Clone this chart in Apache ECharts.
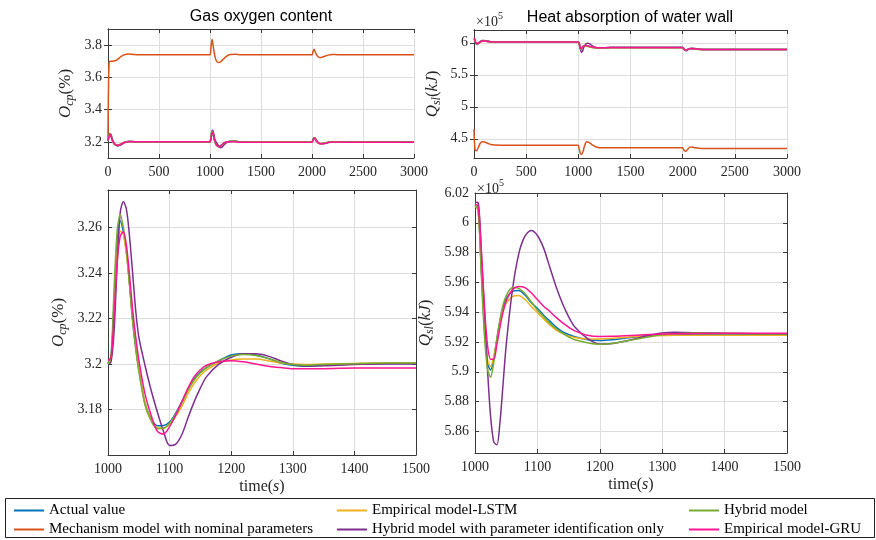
<!DOCTYPE html>
<html>
<head>
<meta charset="utf-8">
<title>Gas oxygen content / Heat absorption of water wall</title>
<script src="https://cdn.jsdelivr.net/npm/echarts@6/dist/echarts.min.js"></script>
<style>
    html, body { margin: 0; padding: 0; background: #fff; }
    #main { width: 876px; height: 540px; }
</style>
</head>
<body>
<div id="main"></div>
<script>
// ---- names / colours ----
var names = ['Actual value', 'Mechanism model with nominal parameters', 'Empirical model-LSTM',
    'Hybrid model with parameter identification only', 'Hybrid model', 'Empirical model-GRU'];
var colors = ['#0072BD', '#D95319', '#EDB120', '#7E2F8E', '#77AC30', '#FF1493'];

// ---- time bases (s) ----
var t0 = [0, 5, 10, 20, 30, 45, 60, 80, 100, 130, 160, 200, 250, 300];
var tZoom = [1000, 1005, 1010, 1015, 1020, 1025, 1030, 1035, 1040, 1045, 1050, 1060, 1070, 1080, 1090,
    1100, 1110, 1120, 1130, 1140, 1150, 1160, 1180, 1200, 1220, 1240, 1260, 1280, 1300, 1320, 1350, 1400, 1450, 1500];
var t2 = [2000, 2005, 2010, 2020, 2030, 2045, 2060, 2080, 2100, 2130, 2160, 2200, 2250, 2300, 3000];
var tMech = [0, 3, 10, 20, 30, 40, 60, 80, 100, 130, 160, 200, 250, 300, 1000, 1005, 1010, 1020, 1030, 1045,
    1060, 1080, 1100, 1130, 1160, 1200, 1250, 1300, 2000, 2005, 2010, 2020, 2030, 2050, 2070, 2090, 2120,
    2160, 2200, 2250, 3000];

// ---- gas oxygen content O_cp (%) ----
var o2ActualZ = [3.2005, 3.203, 3.228, 3.254, 3.263, 3.258, 3.249, 3.235, 3.219, 3.2075, 3.198, 3.183, 3.176, 3.1729, 3.173,
    3.1745, 3.1785, 3.1835, 3.189, 3.1935, 3.1965, 3.1985, 3.2015, 3.204, 3.2045, 3.204, 3.2025, 3.2005, 3.1995, 3.199, 3.1995, 3.2, 3.2003, 3.2003];
var o2LstmZ = [3.2, 3.202, 3.226, 3.25, 3.2585, 3.257, 3.248, 3.235, 3.22, 3.2085, 3.198, 3.183, 3.1755, 3.172, 3.1718,
    3.1735, 3.177, 3.1815, 3.187, 3.1915, 3.195, 3.1975, 3.2005, 3.2018, 3.2022, 3.2022, 3.2015, 3.2005, 3.2, 3.1998, 3.2, 3.2003, 3.2005, 3.2005];
var o2HybridZ = [3.2, 3.204, 3.234, 3.259, 3.2658, 3.26, 3.25, 3.235, 3.219, 3.2065, 3.197, 3.182, 3.175, 3.1716, 3.1718,
    3.174, 3.178, 3.183, 3.1885, 3.193, 3.1962, 3.1985, 3.2015, 3.2035, 3.2042, 3.2038, 3.2025, 3.2008, 3.1998, 3.1995, 3.1998, 3.2002, 3.2005, 3.2005];
var o2ParamZ = [3.2, 3.201, 3.215, 3.245, 3.267, 3.2714, 3.268, 3.256, 3.24, 3.2235, 3.212, 3.1995, 3.1885, 3.179, 3.1705,
    3.1642, 3.1648, 3.169, 3.1765, 3.1835, 3.1895, 3.1945, 3.2, 3.203, 3.2045, 3.2045, 3.2035, 3.2015, 3.1998, 3.1992, 3.1993, 3.1998, 3.2, 3.2];
var o2GruZ = [3.2015, 3.203, 3.222, 3.245, 3.2565, 3.2582, 3.252, 3.239, 3.224, 3.212, 3.202, 3.187, 3.1775, 3.1705, 3.1692,
    3.1725, 3.1775, 3.1835, 3.1895, 3.1945, 3.1975, 3.1995, 3.201, 3.2015, 3.201, 3.2, 3.199, 3.1985, 3.198, 3.198, 3.198, 3.1983, 3.1983, 3.1983];

var o2Actual0 = [3.206, 3.225, 3.24, 3.248, 3.236, 3.206, 3.188, 3.18, 3.179, 3.187, 3.197, 3.203, 3.201, 3.2];
var o2Lstm0 = [3.206, 3.222, 3.237, 3.245, 3.234, 3.206, 3.189, 3.181, 3.18, 3.188, 3.197, 3.202, 3.201, 3.2];
var o2Hybrid0 = [3.206, 3.226, 3.242, 3.25, 3.237, 3.205, 3.187, 3.179, 3.178, 3.187, 3.198, 3.203, 3.201, 3.2];
var o2Param0 = [3.206, 3.22, 3.235, 3.252, 3.245, 3.214, 3.192, 3.179, 3.175, 3.182, 3.194, 3.203, 3.202, 3.2];
var o2Gru0 = [3.208, 3.222, 3.236, 3.245, 3.233, 3.206, 3.19, 3.181, 3.179, 3.187, 3.196, 3.201, 3.201, 3.2012];

var o2Actual2 = [3.2003, 3.202, 3.212, 3.225, 3.22, 3.205, 3.195, 3.19, 3.19, 3.194, 3.198, 3.2015, 3.201, 3.2, 3.2];
var o2Lstm2 = [3.2005, 3.202, 3.211, 3.223, 3.219, 3.205, 3.195, 3.19, 3.19, 3.194, 3.198, 3.201, 3.201, 3.2, 3.2];
var o2Hybrid2 = [3.2005, 3.203, 3.213, 3.226, 3.221, 3.205, 3.194, 3.189, 3.19, 3.194, 3.198, 3.2015, 3.201, 3.2, 3.2];
var o2Param2 = [3.2, 3.201, 3.208, 3.226, 3.225, 3.21, 3.197, 3.189, 3.188, 3.191, 3.196, 3.2, 3.2015, 3.2, 3.2];
var o2Gru2 = [3.1983, 3.2, 3.209, 3.222, 3.218, 3.203, 3.193, 3.188, 3.188, 3.192, 3.196, 3.199, 3.199, 3.198, 3.198];

var o2Mech = [3.22, 3.45, 3.68, 3.7, 3.7, 3.7, 3.702, 3.705, 3.715, 3.73, 3.74, 3.745, 3.742, 3.74, 3.74, 3.75, 3.79, 3.837, 3.8, 3.74,
    3.705, 3.693, 3.695, 3.712, 3.73, 3.742, 3.743, 3.74, 3.74, 3.745, 3.76, 3.775, 3.76, 3.735, 3.724, 3.724, 3.73,
    3.738, 3.742, 3.741, 3.74];

// ---- heat absorption of water wall Q_sl (x10^5 kJ) ----
var qActualZ = [6.0116, 6.009, 5.969, 5.93, 5.906, 5.9012, 5.909, 5.922, 5.934, 5.943, 5.949, 5.954, 5.9545, 5.9515, 5.9465,
    5.9425, 5.938, 5.934, 5.93, 5.927, 5.925, 5.9235, 5.9215, 5.921, 5.9215, 5.9225, 5.9235, 5.9243, 5.9248, 5.925, 5.9252, 5.9252, 5.9252, 5.9252];
var qLstmZ = [6.011, 6.0085, 5.97, 5.932, 5.908, 5.9036, 5.91, 5.921, 5.932, 5.941, 5.946, 5.9505, 5.9512, 5.9485, 5.944,
    5.9398, 5.9355, 5.9315, 5.928, 5.9258, 5.924, 5.923, 5.922, 5.922, 5.9225, 5.923, 5.9237, 5.924, 5.9243, 5.9245, 5.9245, 5.9245, 5.9245, 5.9245];
var qHybridZ = [6.0116, 6.009, 5.967, 5.925, 5.902, 5.8964, 5.906, 5.922, 5.935, 5.945, 5.951, 5.9565, 5.956, 5.9525, 5.947,
    5.9415, 5.937, 5.9325, 5.929, 5.926, 5.9235, 5.9215, 5.9195, 5.9185, 5.919, 5.9205, 5.922, 5.9235, 5.9248, 5.9255, 5.926, 5.9258, 5.9256, 5.9255];
var qParamZ = [6.0138, 6.0135, 5.982, 5.941, 5.902, 5.87, 5.853, 5.851, 5.866, 5.892, 5.918, 5.955, 5.979, 5.991, 5.9948,
    5.9915, 5.983, 5.97, 5.957, 5.946, 5.937, 5.93, 5.9225, 5.9187, 5.919, 5.9205, 5.9225, 5.9245, 5.926, 5.9265, 5.9262, 5.9258, 5.9256, 5.9255];
var qGruZ = [6.0127, 6.011, 5.982, 5.945, 5.918, 5.9085, 5.9085, 5.918, 5.93, 5.94, 5.9475, 5.955, 5.9572, 5.9565, 5.953,
    5.9485, 5.944, 5.9405, 5.9365, 5.933, 5.93, 5.9275, 5.9245, 5.9237, 5.9238, 5.9242, 5.9246, 5.925, 5.9253, 5.9255, 5.9257, 5.9258, 5.9258, 5.9258];

var qActual0 = [6.07, 6.06, 6.03, 5.99, 5.985, 6.0, 6.018, 6.026, 6.027, 6.022, 6.017, 6.013, 6.0115, 6.0115];
var qLstm0 = [6.068, 6.058, 6.03, 5.992, 5.987, 6.0, 6.017, 6.025, 6.026, 6.021, 6.016, 6.012, 6.011, 6.011];
var qHybrid0 = [6.07, 6.06, 6.028, 5.988, 5.983, 5.999, 6.018, 6.027, 6.028, 6.022, 6.016, 6.012, 6.0115, 6.0115];
var qParam0 = [6.07, 6.065, 6.04, 5.985, 5.975, 5.99, 6.02, 6.035, 6.036, 6.027, 6.018, 6.013, 6.0135, 6.0138];
var qGru0 = [6.072, 6.062, 6.035, 5.995, 5.988, 6.0, 6.016, 6.025, 6.027, 6.022, 6.017, 6.013, 6.0125, 6.0127];

var qActual2 = [5.9252, 5.923, 5.905, 5.89, 5.888, 5.895, 5.905, 5.908, 5.906, 5.901, 5.898, 5.896, 5.8955, 5.8955, 5.8955];
var qLstm2 = [5.9245, 5.922, 5.905, 5.891, 5.889, 5.895, 5.904, 5.907, 5.905, 5.9, 5.897, 5.8955, 5.895, 5.895, 5.895];
var qHybrid2 = [5.9255, 5.923, 5.904, 5.889, 5.887, 5.895, 5.905, 5.909, 5.906, 5.901, 5.897, 5.8955, 5.8955, 5.8955, 5.8955];
var qParam2 = [5.9255, 5.925, 5.91, 5.882, 5.876, 5.884, 5.9, 5.914, 5.915, 5.906, 5.898, 5.894, 5.8955, 5.896, 5.896];
var qGru2 = [5.9258, 5.924, 5.907, 5.892, 5.889, 5.895, 5.904, 5.909, 5.907, 5.902, 5.898, 5.8965, 5.896, 5.896, 5.896];

var qMech = [4.65, 4.5, 4.33, 4.315, 4.32, 4.36, 4.43, 4.455, 4.45, 4.43, 4.412, 4.403, 4.401, 4.401, 4.401, 4.395, 4.33, 4.27, 4.255, 4.3,
    4.39, 4.452, 4.445, 4.41, 4.38, 4.362, 4.359, 4.359, 4.359, 4.356, 4.33, 4.31, 4.307, 4.34, 4.37, 4.372, 4.36,
    4.352, 4.349, 4.349, 4.349];

// ---- axis ticks ----
var xTicksFull = [0, 500, 1000, 1500, 2000, 2500, 3000];
var xTicksZoom = [1000, 1100, 1200, 1300, 1400, 1500];
var yTicksO2 = [3.2, 3.4, 3.6, 3.8];
var yTicksQ = [4.5, 5, 5.5, 6];
var yTicksO2Zoom = [3.18, 3.2, 3.22, 3.24, 3.26];
var yTicksQZoom = [5.86, 5.88, 5.9, 5.92, 5.94, 5.96, 5.98, 6, 6.02];

var SERIF = 'Liberation Serif';
var SANS = 'Liberation Sans';
var AXIS_COLOR = '#3a3a3a';

function pairs(t, v) {
    return t.map(function (x, i) { return [x, v[i]]; });
}
function plain(v) {
    return String(+v.toFixed(4));
}

var chart = echarts.init(document.getElementById('main'), null, { renderer: 'canvas' });

var grids = [
    { left: 108, top: 29, width: 306, height: 129 },
    { left: 474, top: 30, width: 313, height: 128 },
    { left: 108, top: 190, width: 308, height: 265 },
    { left: 475, top: 193, width: 312, height: 260 }
];

// italic symbol + lowered italic subscript, upright unit
var nameRich = {
    i: { fontFamily: SERIF, fontStyle: 'italic', fontSize: 17, lineHeight: 19, verticalAlign: 'top', color: '#262626' },
    s: { fontFamily: SERIF, fontStyle: 'italic', fontSize: 12, lineHeight: 19, verticalAlign: 'bottom', color: '#262626' },
    n: { fontFamily: SERIF, fontSize: 17, lineHeight: 19, verticalAlign: 'top', color: '#262626' }
};

function makeX(gi, min, max, ticks, withName) {
    var main = {
        type: 'value', gridIndex: gi, min: min, max: max, position: 'bottom',
        axisLine: { show: true, lineStyle: { color: AXIS_COLOR, width: 1 } },
        axisTick: { show: true, inside: true, length: 4, customValues: ticks, lineStyle: { color: AXIS_COLOR } },
        axisLabel: { customValues: ticks, formatter: plain, margin: 7, fontFamily: SERIF, fontSize: 14, color: '#262626' },
        splitLine: { show: true, lineStyle: { color: '#dedede', width: 1 } }
    };
    if (withName) {
        main.name = '{n|time(}{i|s}{n|)}';
        main.nameLocation = 'middle';
        main.nameGap = 24;
        main.nameTextStyle = {
            rich: {
                n: { fontFamily: SERIF, fontSize: 16, color: '#262626' },
                i: { fontFamily: SERIF, fontStyle: 'italic', fontSize: 16, color: '#262626' }
            }
        };
    }
    var mirror = {
        type: 'value', gridIndex: gi, min: min, max: max, position: 'top',
        axisLine: { show: true, lineStyle: { color: AXIS_COLOR, width: 1 } },
        axisTick: { show: true, inside: true, length: 4, customValues: ticks, lineStyle: { color: AXIS_COLOR } },
        axisLabel: { show: false },
        splitLine: { show: false }
    };
    return [main, mirror];
}

function makeY(gi, min, max, ticks, name, gap) {
    var main = {
        type: 'value', gridIndex: gi, min: min, max: max, position: 'left',
        name: name, nameLocation: 'middle', nameGap: gap,
        nameTextStyle: { rich: nameRich },
        axisLine: { show: true, lineStyle: { color: AXIS_COLOR, width: 1 } },
        axisTick: { show: true, inside: true, length: 4, customValues: ticks, lineStyle: { color: AXIS_COLOR } },
        axisLabel: { customValues: ticks, formatter: plain, margin: 6, fontFamily: SERIF, fontSize: 14, color: '#262626' },
        splitLine: { show: true, lineStyle: { color: '#dedede', width: 1 } }
    };
    var mirror = {
        type: 'value', gridIndex: gi, min: min, max: max, position: 'right',
        axisLine: { show: true, lineStyle: { color: AXIS_COLOR, width: 1 } },
        axisTick: { show: true, inside: true, length: 4, customValues: ticks, lineStyle: { color: AXIS_COLOR } },
        axisLabel: { show: false },
        splitLine: { show: false }
    };
    return [main, mirror];
}

var O2_NAME = '{i|O}{s|cp}{n|(%)}';
var Q_NAME = '{i|Q}{s|sl}{n|(}{i|kJ}{n|)}';

var xAxes = [].concat(
    makeX(0, 0, 3000, xTicksFull, false),
    makeX(1, 0, 3000, xTicksFull, false),
    makeX(2, 1000, 1500, xTicksZoom, true),
    makeX(3, 1000, 1500, xTicksZoom, true)
);
var yAxes = [].concat(
    makeY(0, 3.1, 3.9, yTicksO2, O2_NAME, 32),
    makeY(1, 4.2, 6.2, yTicksQ, Q_NAME, 31),
    makeY(2, 3.16, 3.2766, yTicksO2Zoom, O2_NAME, 39),
    makeY(3, 5.8455, 6.02, yTicksQZoom, Q_NAME, 39)
);

function line(name, data, axisIdx) {
    return {
        type: 'line', name: name, data: data,
        xAxisIndex: axisIdx, yAxisIndex: axisIdx,
        showSymbol: false, symbol: 'none', smooth: 0.3,
        color: colors[names.indexOf(name)],
        lineStyle: { width: 1.5 },
        emphasis: { disabled: true },
        animation: false
    };
}

function full(seg0, zoom, seg2) {
    return pairs(t0, seg0).concat(pairs(tZoom, zoom), pairs(t2, seg2));
}

var series = [
    // top left: gas oxygen content, full run
    line(names[0], full(o2Actual0, o2ActualZ, o2Actual2), 0),
    line(names[1], pairs(tMech, o2Mech), 0),
    line(names[2], full(o2Lstm0, o2LstmZ, o2Lstm2), 0),
    line(names[3], full(o2Param0, o2ParamZ, o2Param2), 0),
    line(names[4], full(o2Hybrid0, o2HybridZ, o2Hybrid2), 0),
    line(names[5], full(o2Gru0, o2GruZ, o2Gru2), 0),
    // top right: heat absorption, full run
    line(names[0], full(qActual0, qActualZ, qActual2), 2),
    line(names[1], pairs(tMech, qMech), 2),
    line(names[2], full(qLstm0, qLstmZ, qLstm2), 2),
    line(names[3], full(qParam0, qParamZ, qParam2), 2),
    line(names[4], full(qHybrid0, qHybridZ, qHybrid2), 2),
    line(names[5], full(qGru0, qGruZ, qGru2), 2),
    // bottom left: zoom 1000-1500 s
    line(names[0], pairs(tZoom, o2ActualZ), 4),
    line(names[2], pairs(tZoom, o2LstmZ), 4),
    line(names[3], pairs(tZoom, o2ParamZ), 4),
    line(names[4], pairs(tZoom, o2HybridZ), 4),
    line(names[5], pairs(tZoom, o2GruZ), 4),
    // bottom right: zoom 1000-1500 s
    line(names[0], pairs(tZoom, qActualZ), 6),
    line(names[2], pairs(tZoom, qLstmZ), 6),
    line(names[3], pairs(tZoom, qParamZ), 6),
    line(names[4], pairs(tZoom, qHybridZ), 6),
    line(names[5], pairs(tZoom, qGruZ), 6)
];

// legend laid out like the MATLAB 3-column box
var legendSlots = [
    { name: names[0], left: 14, top: 503 },
    { name: names[2], left: 337, top: 503 },
    { name: names[4], left: 689, top: 503 },
    { name: names[1], left: 14, top: 522 },
    { name: names[3], left: 337, top: 522 },
    { name: names[5], left: 689, top: 522 }
];
var legends = legendSlots.map(function (s) {
    return {
        data: [s.name], left: s.left, top: s.top, padding: 0,
        icon: 'rect', itemWidth: 30, itemHeight: 2, selectedMode: false,
        textStyle: { fontFamily: SERIF, fontSize: 15, color: '#000' }
    };
});

var expRich = {
    a: { fontFamily: SERIF, fontSize: 14, lineHeight: 18, verticalAlign: 'bottom' },
    b: { fontFamily: SERIF, fontSize: 10, lineHeight: 18, verticalAlign: 'top' }
};

var option = {
    backgroundColor: '#fff',
    animation: false,
    grid: grids,
    xAxis: xAxes,
    yAxis: yAxes,
    legend: legends,
    series: series,
    graphic: [
        { type: 'text', x: 261, y: 17, style: { text: 'Gas oxygen content', fontFamily: SANS, fontSize: 16, fill: '#000', align: 'center', verticalAlign: 'middle' } },
        { type: 'text', x: 630, y: 18, style: { text: 'Heat absorption of water wall', fontFamily: SANS, fontSize: 16, fill: '#000', align: 'center', verticalAlign: 'middle' } },
        { type: 'text', x: 476, y: 11, style: { text: '{a|×10}{b|5}', fill: '#262626', rich: expRich } },
        { type: 'text', x: 477, y: 178, style: { text: '{a|×10}{b|5}', fill: '#262626', rich: expRich } },
        { type: 'rect', shape: { x: 5.5, y: 498.5, width: 869, height: 39 }, style: { fill: 'none', stroke: '#222', lineWidth: 1 } }
    ]
};

chart.setOption(option);
</script>
</body>
</html>
